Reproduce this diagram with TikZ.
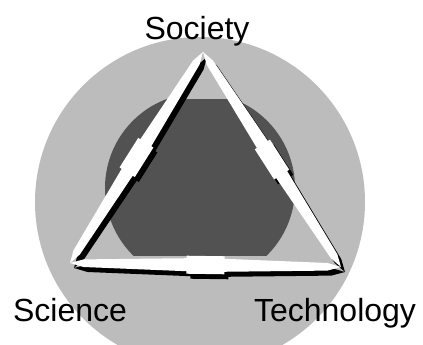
\documentclass[tikz,border=0pt]{standalone}
\usepackage{fontspec}
\setmainfont{Liberation Sans}
\usetikzlibrary{calc}
\definecolor{lightg}{RGB}{188,188,188}
\definecolor{darkg}{RGB}{82,82,82}
\tikzset{
  shadowfill/.style={fill=black},
  barfill/.style={fill=white},
  label/.style={font=\fontsize{32}{36}\selectfont, anchor=base, inner sep=0pt}
}
\newcommand\edgebar[3]{%
  \fill[#3] (#1)
    -- ($(#1)!0.05!(#2)!3.8pt!90:(#2)$)
    -- ($(#1)!0.43!(#2)!6.5pt!90:(#2)$)
    -- ($(#1)!0.43!(#2)!9pt!90:(#2)$)
    -- ($(#1)!0.57!(#2)!9pt!90:(#2)$)
    -- ($(#1)!0.57!(#2)!6.5pt!90:(#2)$)
    -- ($(#1)!0.95!(#2)!3.8pt!90:(#2)$)
    -- (#2)
    -- ($(#1)!0.95!(#2)!3.8pt!-90:(#2)$)
    -- ($(#1)!0.57!(#2)!6.5pt!-90:(#2)$)
    -- ($(#1)!0.57!(#2)!9pt!-90:(#2)$)
    -- ($(#1)!0.43!(#2)!9pt!-90:(#2)$)
    -- ($(#1)!0.43!(#2)!6.5pt!-90:(#2)$)
    -- ($(#1)!0.05!(#2)!3.8pt!-90:(#2)$)
    -- cycle;}
\begin{document}
\begin{tikzpicture}[x=1pt,y=1pt]
  \useasboundingbox (0,0) rectangle (423,345);
  \fill[white] (0,0) rectangle (423,345);
  % background discs
  \begin{scope}
    \clip (0,0) rectangle (423,345);
    \fill[lightg] (200,143) circle (165);
  \end{scope}
  \begin{scope}
    \clip (0,89) rectangle (423,245);
    \fill[darkg] (200,157) circle (95);
  \end{scope}
  % vertices
  \coordinate (S) at (203,293);
  \coordinate (L) at (70,82);
  \coordinate (R) at (341,78);
  % shadows
  \begin{scope}[transform canvas={shift={(4,-5)}}]
    \edgebar{L}{S}{shadowfill}
    \edgebar{S}{R}{shadowfill}
    \edgebar{L}{R}{shadowfill}
  \end{scope}
  % white double arrows
  \edgebar{L}{S}{barfill}
  \edgebar{S}{R}{barfill}
  \edgebar{L}{R}{barfill}
  % labels
  \node[label] (soc) at (197,305) {Society};
  \node[label] (sci) at (70,23) {Science};
  \node[label] (tec) at (335,23) {Technology};
\end{tikzpicture}
\end{document}
